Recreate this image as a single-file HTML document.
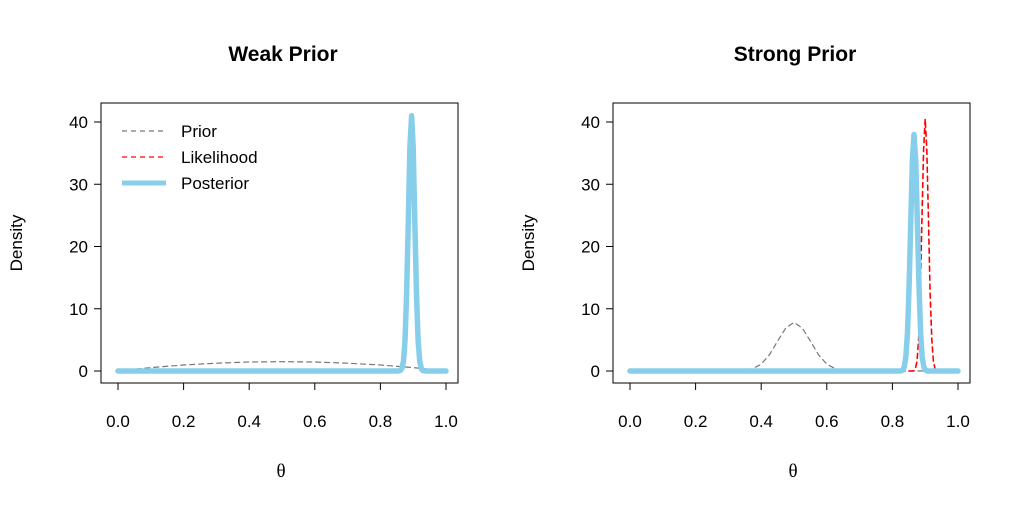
<!DOCTYPE html>
<html><head><meta charset="utf-8"><style>
body{margin:0;background:#fff}
svg text{font-family:"Liberation Sans",Arial,sans-serif;fill:#000}
</style></head><body>
<svg id="c" width="1024" height="512" xmlns="http://www.w3.org/2000/svg"></svg>
<script>
const xTicks=[0,0.2,0.4,0.6,0.8,1.0];
const xTickLabels=["0.0","0.2","0.4","0.6","0.8","1.0"];
const yTicks=[0,10,20,30,40];
const weakPriorX=[0,0.1,0.2,0.3,0.4,0.5,0.6,0.7,0.8,0.9,1.0];
const weakPriorY=[0,0.54,0.96,1.26,1.44,1.5,1.44,1.26,0.96,0.54,0];
const weakLikX=[0,0.855,0.86,0.865,0.87,0.875,0.88,0.885,0.89,0.895,0.9,0.905,0.91,0.915,0.92,0.925,0.93,0.935,1.0];
const weakLikY=[0,0,0.06,0.34,1.48,4.9,12.3,24.1,35.9,41,35.9,24.1,12.3,4.9,1.48,0.34,0.06,0,0];
const weakPostX=[0,0.855,0.86,0.865,0.87,0.875,0.88,0.885,0.89,0.895,0.9,0.905,0.91,0.915,0.92,0.925,0.93,0.935,1.0];
const weakPostY=[0,0,0.06,0.34,1.48,4.9,12.3,24.1,35.9,41,35.9,24.1,12.3,4.9,1.48,0.34,0.06,0,0];
const strongPriorX=[0,0.35,0.375,0.4,0.425,0.45,0.475,0.5,0.525,0.55,0.575,0.6,0.625,0.65,1.0];
const strongPriorY=[0,0,0.4,1.1,2.6,4.8,6.9,7.8,6.9,4.8,2.6,1.1,0.4,0,0];
const strongLikX=[0,0.865,0.87,0.875,0.88,0.885,0.89,0.895,0.9,0.905,0.91,0.915,0.92,0.925,0.93,0.935,1.0];
const strongLikY=[0,0,0.38,1.57,5.06,12.6,24.1,35.6,40.5,35.6,24.1,12.6,5.06,1.57,0.38,0,0];
const strongPostX=[0,0.826,0.831,0.836,0.841,0.846,0.851,0.856,0.861,0.866,0.871,0.876,0.881,0.886,0.891,0.896,0.901,0.906,1.0];
const strongPostY=[0,0,0.15,0.64,2.2,6.2,13.7,24.2,33.9,38,33.9,24.2,13.7,6.2,2.2,0.64,0.15,0,0];
const titles=["Weak Prior","Strong Prior"];

const NS="http://www.w3.org/2000/svg",svg=document.getElementById('c');
function mk(t,a,p){const e=document.createElementNS(NS,t);for(const k in a)e.setAttribute(k,a[k]);(p||svg).appendChild(e);return e;}
function panel(ox,title,series,idx){
  const g=mk('g',{});
  
  
  const X=v=>ox+118+v*328, Y=v=>371-v*6.225;
  const box=mk('rect',{x:ox+101,y:103,width:357,height:280,fill:'none',stroke:'#000','stroke-width':1},g);
  
  const t=mk('text',{x:ox+283,y:61,'text-anchor':'middle','font-size':21,'font-weight':'bold'},g);t.textContent=title;
  
  mk('line',{x1:X(0),x2:X(1),y1:383,y2:383,stroke:'#000'},g);
  xTicks.forEach((v,i)=>{mk('line',{x1:X(v),x2:X(v),y1:383,y2:390,stroke:'#000'},g);
    const l=mk('text',{x:X(v),y:427,'text-anchor':'middle','font-size':17},g);l.textContent=xTickLabels[i];
    });
  mk('line',{x1:ox+101,x2:ox+101,y1:Y(0),y2:Y(40),stroke:'#000'},g);
  yTicks.forEach(v=>{mk('line',{x1:ox+94,x2:ox+101,y1:Y(v),y2:Y(v),stroke:'#000'},g);
    const l=mk('text',{x:ox+88,y:Y(v)+6,'text-anchor':'end','font-size':17},g);l.textContent=v;
    });
  const yl=mk('text',{x:ox+22,y:243,'text-anchor':'middle','font-size':17,transform:`rotate(-90 ${ox+22} 243)`},g);yl.textContent='Density';
  
  const xl=mk('text',{x:ox+281,y:477,'text-anchor':'middle','font-size':19,style:'font-family:"Liberation Serif",serif'},g);xl.textContent='θ';
  
  series.forEach(s=>{const d=s.x.map((v,i)=>(i?'L':'M')+X(v).toFixed(1)+' '+Y(s.y[i]).toFixed(1)).join(' ');
    const p=mk('path',{d,fill:'none',stroke:s.c,'stroke-width':s.w,'stroke-dasharray':s.dash||'none','stroke-linejoin':'round','stroke-linecap':'round'},g);
    });
}
panel(0,titles[0],[
 {x:weakPriorX,y:weakPriorY,c:'#777',w:1.2,dash:'5 4',n:'prior-line'},
 {x:weakLikX,y:weakLikY,c:'#f00',w:1.2,dash:'5 4',n:'likelihood-line'},
 {x:weakPostX,y:weakPostY,c:'#87ceeb',w:5.5,n:'posterior-line'}],0);
panel(512,titles[1],[
 {x:strongPriorX,y:strongPriorY,c:'#777',w:1.2,dash:'5 4',n:'prior-line'},
 {x:strongLikX,y:strongLikY,c:'#f00',w:1.6,dash:'5 4',n:'likelihood-line'},
 {x:strongPostX,y:strongPostY,c:'#87ceeb',w:5.5,n:'posterior-line'}],1);
const lg=mk('g',{});

[["Prior",'#777',1.2,'5 4',131],["Likelihood",'#f00',1.2,'5 4',157],["Posterior",'#87ceeb',5,'none',183]].forEach(e=>{
 mk('line',{x1:122,x2:166,y1:e[4],y2:e[4],stroke:e[1],'stroke-width':e[2],'stroke-dasharray':e[3]},lg);
 const t=mk('text',{x:181,y:e[4]+6,'font-size':17},lg);t.textContent=e[0];
 });
</script>
</body></html>
